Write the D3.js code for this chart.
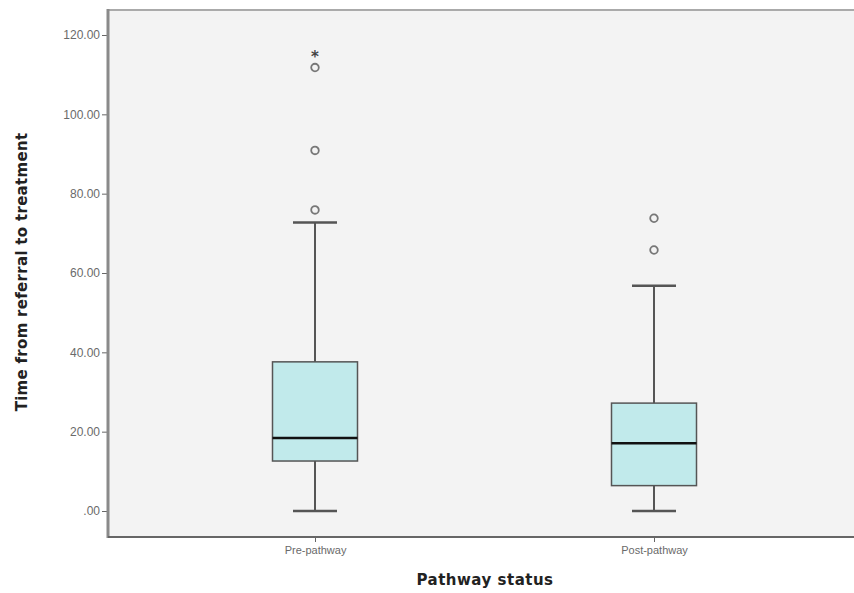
<html lang="en">
<head>
  <meta charset="UTF-8"/>
  <script src="https://d3js.org/d3.v7.min.js"></script>
  <style>
body {
  margin: 0;
  background: white;
  font-family: 'DejaVu Sans', sans-serif;
}

svg {
  display: block;
}

.tick text {
  font-size: 12px;
  fill: #6a6a6a;
}

text.axis_title {
  font-weight: bold;
  fill: #222;
}
</style>
</head>
<body>
  <svg width="854" height="593"></svg>

<script>

  // values
  const groups = ['Pre-pathway', 'Post-pathway'];
  const lowWhisker = [0, 0];
  const q1 = [12.6, 6.4];
  const median = [18.4, 17.1];
  const q3 = [37.6, 27.2];
  const highWhisker = [72.7, 56.8];
  const outliers = [[75.9, 90.9, 111.8], [65.8, 73.8]];
  const extremes = [[114.8], []];
  const yTicks = [0, 20, 40, 60, 80, 100, 120];

  const svg = d3.select('svg');

  const plot = {left: 108, top: 10, right: 854, bottom: 537};

  const x = d3.scalePoint()
    .domain(groups)
    .range([145.5, 823.5])
    .padding(0.5);

  const y = d3.scaleLinear()
    .domain([0, 120])
    .range([511, 35]);

  const boxWidth = 85;
  const capWidth = 44;

  // background
  svg.append('rect')
    .attr('x', plot.left)
    .attr('y', plot.top)
    .attr('width', plot.right - plot.left)
    .attr('height', plot.bottom - plot.top)
    .attr('fill', '#f3f3f3');

  svg.append('line')
    .attr('x1', plot.left).attr('x2', plot.right)
    .attr('y1', plot.top).attr('y2', plot.top)
    .attr('stroke', '#aaa').attr('stroke-width', 2);

  // y axis
  const yAxis = d3.axisLeft(y)
    .tickValues(yTicks)
    .tickSize(5)
    .tickPadding(2)
    .tickFormat(d => d === 0 ? '.00' : d3.format('.2f')(d));

  const gy = svg.append('g')
    .attr('transform', `translate(${plot.left - 1},0)`)
    .call(yAxis);
  gy.select('.domain').remove();
  gy.selectAll('.tick line').attr('stroke', '#666');

  svg.append('line')
    .attr('x1', plot.left).attr('x2', plot.left)
    .attr('y1', plot.top - 1).attr('y2', plot.bottom + 1)
    .attr('stroke', '#8a8a8a').attr('stroke-width', 3);

  // x axis
  const xAxis = d3.axisBottom(x).tickSize(5).tickPadding(4);
  const gx = svg.append('g')
    .attr('transform', `translate(0,${plot.bottom})`)
    .call(xAxis);
  gx.select('.domain').remove();
  gx.selectAll('.tick line').attr('stroke', '#666');
  gx.selectAll('.tick text').style('font-size', '11px');

  svg.append('line')
    .attr('x1', plot.left).attr('x2', plot.right)
    .attr('y1', plot.bottom).attr('y2', plot.bottom)
    .attr('stroke', '#666').attr('stroke-width', 2);

  // boxes
  const boxes = svg.append('g')
    .selectAll('g')
    .data(groups)
    .join('g')
    .attr('transform', d => `translate(${x(d)},0)`);

  boxes.append('line')
    .attr('y1', (d, i) => y(lowWhisker[i]))
    .attr('y2', (d, i) => y(highWhisker[i]))
    .attr('stroke', '#555').attr('stroke-width', 2);

  boxes.selectAll('line.cap')
    .data((d, i) => [lowWhisker[i], highWhisker[i]])
    .join('line')
    .attr('class', 'cap')
    .attr('x1', -capWidth / 2).attr('x2', capWidth / 2)
    .attr('y1', v => y(v)).attr('y2', v => y(v))
    .attr('stroke', '#555').attr('stroke-width', 2.5);

  boxes.append('rect')
    .attr('x', -boxWidth / 2)
    .attr('width', boxWidth)
    .attr('y', (d, i) => y(q3[i]))
    .attr('height', (d, i) => y(q1[i]) - y(q3[i]))
    .attr('fill', '#c1eaeb')
    .attr('stroke', '#555')
    .attr('stroke-width', 1.5);

  boxes.append('line')
    .attr('x1', -boxWidth / 2).attr('x2', boxWidth / 2)
    .attr('y1', (d, i) => y(median[i]))
    .attr('y2', (d, i) => y(median[i]))
    .attr('stroke', '#111').attr('stroke-width', 2.5);

  boxes.selectAll('circle')
    .data((d, i) => outliers[i])
    .join('circle')
    .attr('cy', v => y(v))
    .attr('r', 3.8)
    .attr('fill', 'none')
    .attr('stroke', '#777')
    .attr('stroke-width', 1.8);

  boxes.selectAll('text.extreme')
    .data((d, i) => extremes[i])
    .join('text')
    .attr('class', 'extreme')
    .attr('y', v => y(v) + 6)
    .attr('text-anchor', 'middle')
    .attr('font-size', '15px')
    .attr('font-weight', 'bold')
    .attr('fill', '#444')
    .text('*');

  // titles
  svg.append('text')
    .attr('class', 'axis_title')
    .attr('x', 485)
    .attr('y', 585)
    .attr('text-anchor', 'middle')
    .attr('font-size', '15px')
    .attr('letter-spacing', '0.5px')
    .text('Pathway status');

  svg.append('text')
    .attr('class', 'axis_title')
    .attr('transform', 'rotate(-90)')
    .attr('x', -272)
    .attr('y', 27)
    .attr('text-anchor', 'middle')
    .attr('font-size', '15px')
    .attr('letter-spacing', '0.3px')
    .text('Time from referral to treatment');

  </script>
</body>
</html>
